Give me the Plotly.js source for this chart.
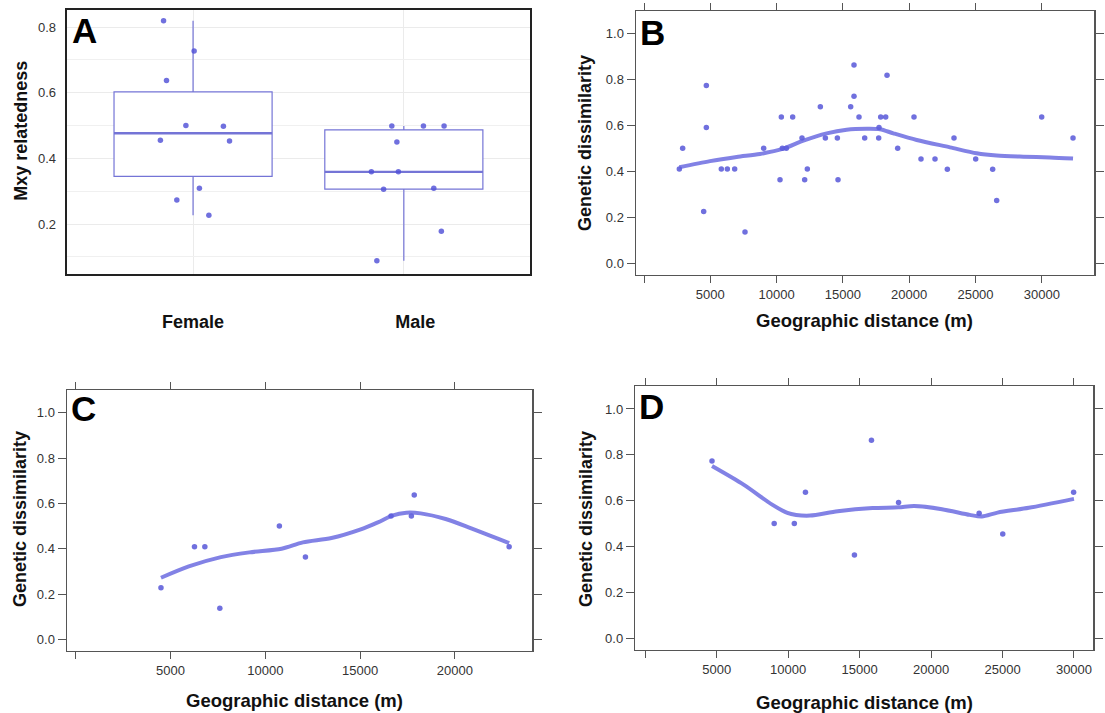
<!DOCTYPE html>
<html>
<head>
<meta charset="utf-8">
<script src="https://cdn.plot.ly/plotly-3.0.1.min.js"></script>
<style>html,body{margin:0;padding:0;background:#fff}#chart{width:1105px;height:713px}</style>
</head>
<body>
<div id="chart"></div>
<script>
// ---------- Panel A: Mxy relatedness by sex ----------
const sexCategories = ['Female', 'Male'];
const femaleRelatedness = [0.8195, 0.727, 0.637, 0.500, 0.498, 0.455, 0.453, 0.309, 0.273, 0.227];
const femaleJitter      = [-0.140, 0.005, -0.126, -0.034, 0.144, -0.155, 0.173, 0.030, -0.077, 0.075];
const maleRelatedness   = [0.499, 0.499, 0.499, 0.450, 0.359, 0.359, 0.306, 0.309, 0.178, 0.088];
const maleJitter        = [-0.057, 0.093, 0.191, -0.033, -0.154, -0.026, -0.096, 0.142, 0.178, -0.128];

// ---------- Panel B: all pairs ----------
const allDistance = [2665, 2916, 4701, 4701, 4500, 5832, 6285, 6838, 7617, 9025, 10257, 10357, 10433, 10735, 11212, 11916, 12318, 12117, 13299, 13676, 14631, 14581, 15587, 15838, 15838, 16215, 16642, 17849, 18226, 17723, 17698, 18327, 19131, 20362, 23379, 20890, 21946, 22876, 25013, 26295, 26597, 29991, 32354];
const allDissimilarity = [0.411, 0.501, 0.774, 0.591, 0.226, 0.411, 0.411, 0.411, 0.136, 0.501, 0.364, 0.637, 0.501, 0.501, 0.637, 0.546, 0.411, 0.364, 0.682, 0.546, 0.364, 0.546, 0.682, 0.864, 0.727, 0.637, 0.546, 0.637, 0.637, 0.591, 0.546, 0.819, 0.501, 0.637, 0.546, 0.454, 0.454, 0.409, 0.454, 0.409, 0.273, 0.637, 0.546];
const allSmoothX = [2665, 4978, 6989, 8749, 10508, 12017, 13777, 15285, 16793, 17799, 18804, 20563, 23077, 25088, 26597, 28608, 30619, 32354];
const allSmoothY = [0.418, 0.445, 0.463, 0.476, 0.499, 0.534, 0.566, 0.582, 0.586, 0.584, 0.566, 0.537, 0.505, 0.479, 0.469, 0.464, 0.461, 0.456];

// ---------- Panel C: female pairs ----------
const femDistance = [4497, 6265, 6811, 7601, 10743, 12117, 16632, 17705, 17855, 22860];
const femDissimilarity = [0.228, 0.409, 0.409, 0.137, 0.500, 0.363, 0.544, 0.544, 0.637, 0.409];
const femSmoothX = [4497, 5964, 7658, 9163, 10856, 11985, 13490, 14995, 15936, 16689, 17441, 18194, 19511, 20828, 22860];
const femSmoothY = [0.272, 0.322, 0.363, 0.384, 0.400, 0.428, 0.447, 0.484, 0.516, 0.546, 0.559, 0.556, 0.531, 0.491, 0.425];

// ---------- Panel D: male pairs ----------
const maleDistance = [4668, 9019, 10429, 11207, 14635, 15826, 17722, 23362, 25015, 29974];
const maleDissimilarity = [0.773, 0.500, 0.500, 0.637, 0.363, 0.863, 0.592, 0.545, 0.455, 0.637];
const maleSmoothX = [4668, 6904, 8849, 9943, 10551, 11523, 13468, 15899, 17722, 18816, 20761, 22706, 23556, 24650, 26838, 29998];
const maleSmoothY = [0.751, 0.669, 0.584, 0.547, 0.538, 0.535, 0.554, 0.568, 0.571, 0.577, 0.563, 0.538, 0.531, 0.548, 0.569, 0.608];

// Tick labels
const distTicksB = [0, 5000, 10000, 15000, 20000, 25000, 30000];
const distTicksC = [0, 5000, 10000, 15000, 20000];
const distTicksD = [0, 5000, 10000, 15000, 20000, 25000, 30000];
const dissimTicks = [0, 0.2, 0.4, 0.6, 0.8, 1.0];
const relTicks = [0.2, 0.4, 0.6, 0.8];

// ---------- helpers ----------
function quantile7(arr, p) {
  const s = arr.slice().sort((a, b) => a - b);
  const h = (s.length - 1) * p;
  const lo = Math.floor(h), hi = Math.ceil(h);
  return s[lo] + (h - lo) * (s[hi] - s[lo]);
}
function boxStats(arr) {
  const q1 = quantile7(arr, 0.25), med = quantile7(arr, 0.5), q3 = quantile7(arr, 0.75);
  const iqr = q3 - q1;
  const lo = Math.min(...arr.filter(v => v >= q1 - 1.5 * iqr));
  const hi = Math.max(...arr.filter(v => v <= q3 + 1.5 * iqr));
  return {q1, med, q3, lo, hi};
}

const FONT = 'Liberation Sans, Arial, Helvetica, sans-serif';
const BOXCOL = '#7474d6';
const PTCOL = 'rgba(80,80,215,0.82)';
const LINECOL = 'rgba(95,95,222,0.78)';
const BOXW = 0.75;

const traces = [];
[femaleRelatedness, maleRelatedness].forEach((vals, i) => {
  const st = boxStats(vals);
  traces.push({
    type: 'box', x: [i], q1: [st.q1], median: [st.med], q3: [st.q3],
    lowerfence: [st.lo], upperfence: [st.hi], width: BOXW, whiskerwidth: 0,
    fillcolor: '#ffffff', line: {color: BOXCOL, width: 1.2}, boxpoints: false,
    xaxis: 'x', yaxis: 'y', hoverinfo: 'skip'
  });
  traces.push({
    type: 'scatter', mode: 'lines', x: [i - BOXW / 2, i + BOXW / 2], y: [st.med, st.med],
    line: {color: BOXCOL, width: 2.4}, xaxis: 'x', yaxis: 'y', hoverinfo: 'skip'
  });
});
traces.push({
  type: 'scatter', mode: 'markers', x: femaleJitter.map(j => 0 + j), y: femaleRelatedness,
  marker: {size: 5.5, color: PTCOL}, xaxis: 'x', yaxis: 'y', name: sexCategories[0]
});
traces.push({
  type: 'scatter', mode: 'markers', x: maleJitter.map(j => 1 + j), y: maleRelatedness,
  marker: {size: 5.5, color: PTCOL}, xaxis: 'x', yaxis: 'y', name: sexCategories[1]
});

function addPanel(xs, ys, sx, sy, ax) {
  traces.push({type: 'scatter', mode: 'markers', x: xs, y: ys,
    marker: {size: 5.5, color: PTCOL}, xaxis: 'x' + ax, yaxis: 'y' + ax});
  traces.push({type: 'scatter', mode: 'lines', x: sx, y: sy,
    line: {color: LINECOL, width: 4, shape: 'spline', smoothing: 0.8}, xaxis: 'x' + ax, yaxis: 'y' + ax});
}
addPanel(allDistance, allDissimilarity, allSmoothX, allSmoothY, '2');
addPanel(femDistance, femDissimilarity, femSmoothX, femSmoothY, '3');
addPanel(maleDistance, maleDissimilarity, maleSmoothX, maleSmoothY, '4');

const W = 1105, H = 713;
const px = v => v / W;
const py = v => 1 - v / H;

function latX(domainPx, range, ticks, anchor) {
  return {
    domain: [px(domainPx[0]), px(domainPx[1])], range: range, anchor: anchor,
    tickmode: 'array', tickvals: ticks, ticktext: ticks.map(t => t === 0 ? '' : String(t)),
    ticks: 'outside', ticklen: 7, tickwidth: 1, tickcolor: '#555',
    showline: true, linecolor: '#555', linewidth: 1.2, mirror: 'ticks',
    showgrid: false, zeroline: false, tickfont: {family: FONT, size: 13, color: '#333'}
  };
}
function latY(domainPx, anchor) {
  return {
    domain: [py(domainPx[1]), py(domainPx[0])], range: [-0.051, 1.1], anchor: anchor,
    tickmode: 'array', tickvals: dissimTicks, ticktext: dissimTicks.map(t => t.toFixed(1)),
    ticks: 'outside', ticklen: 8, tickwidth: 1, tickcolor: '#555',
    showline: true, linecolor: '#555', linewidth: 1.2, mirror: 'ticks',
    showgrid: false, zeroline: false, tickfont: {family: FONT, size: 13, color: '#333'}
  };
}

const titleFontY = {family: FONT, size: 18, color: '#111', weight: 'bold'};
const titleFontX = {family: FONT, size: 18.5, color: '#111', weight: 'bold'};
const letterFont = {family: FONT, size: 35, color: '#000', weight: 'bold'};

function ann(text, x, y, font, angle) {
  return {text: text, x: px(x), y: py(y), xref: 'paper', yref: 'paper', showarrow: false,
    xanchor: 'center', yanchor: 'middle', font: font, textangle: angle || 0};
}

const layout = {
  width: W, height: H, margin: {l: 0, r: 0, t: 0, b: 0},
  paper_bgcolor: '#fff', plot_bgcolor: '#fff', showlegend: false,
  font: {family: FONT},
  xaxis: {
    domain: [px(66.6), px(530.3)], range: [-0.6, 1.6], anchor: 'y',
    tickmode: 'array', tickvals: [0, 1.054], ticktext: sexCategories,
    ticks: '', ticklabelstandoff: 30, showgrid: false, zeroline: false,
    showline: true, linecolor: '#222', linewidth: 2, mirror: true,
    tickfont: {family: FONT, size: 18, color: '#111', weight: 'bold'},
    minor: {tickmode: 'array', tickvals: [0, 1], showgrid: true, gridcolor: '#ebebeb', gridwidth: 1, ticks: ''}
  },
  yaxis: {
    domain: [py(274), py(10.3)], range: [0.048, 0.851], anchor: 'x',
    tickmode: 'array', tickvals: relTicks, ticktext: relTicks.map(t => t.toFixed(1)),
    ticks: '', ticklabelstandoff: 6, showgrid: true, gridcolor: '#ebebeb', gridwidth: 1, zeroline: false,
    showline: true, linecolor: '#222', linewidth: 2, mirror: true,
    tickfont: {family: FONT, size: 13, color: '#333'},
    minor: {tickmode: 'array', tickvals: [0.1, 0.3, 0.5, 0.7], showgrid: true, gridcolor: '#f0f0f0', gridwidth: 1, ticks: ''}
  },
  xaxis2: latX([635.7, 1094.3], [-626, 33959], distTicksB, 'y2'),
  yaxis2: latY([10.7, 275], 'x2'),
  xaxis3: latX([66.7, 532.3], [-475, 24082], distTicksC, 'y3'),
  yaxis3: latY([390, 651], 'x3'),
  xaxis4: latX([635, 1093.3], [-721, 31351], distTicksD, 'y4'),
  yaxis4: latY([386, 650], 'x4'),
  annotations: [
    ann('Mxy relatedness', 20.7, 131, titleFontY, -90),
    ann('Genetic dissimilarity', 585, 143, titleFontY, -90),
    ann('Geographic distance (m)', 864, 320.7, titleFontX),
    ann('Genetic dissimilarity', 20, 519, titleFontY, -90),
    ann('Geographic distance (m)', 294, 700, titleFontX),
    ann('Genetic dissimilarity', 586, 519, titleFontY, -90),
    ann('Geographic distance (m)', 864, 702.7, titleFontX),
    ann('A', 84, 31, letterFont),
    ann('B', 652, 32, letterFont),
    ann('C', 83, 408, letterFont),
    ann('D', 651, 407, letterFont)
  ]
};

Plotly.newPlot('chart', traces, layout, {staticPlot: true, displayModeBar: false});
</script>
</body>
</html>
